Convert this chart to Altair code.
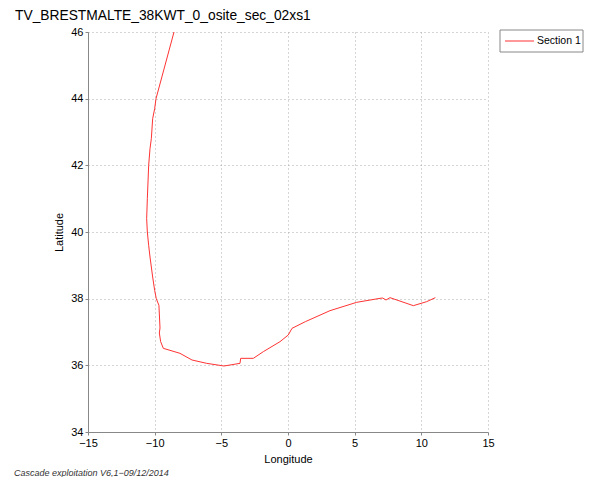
import altair as alt
import pandas as pd

title_text = "TV_BRESTMALTE_38KWT_0_osite_sec_02xs1"
footer_text = "Cascade exploitation V6,1\u221209/12/2014"
series_name = "Section 1"

lon = [-8.55, -9.9, -10.0, -10.15, -10.25, -10.35, -10.45, -10.5, -10.55, -10.6,
       -10.55, -10.45, -10.35, -10.15, -10.0, -9.88, -9.68, -9.6, -9.65, -9.55,
       -9.35, -8.1, -7.2, -6.1, -4.8, -3.6, -3.55, -2.6, -1.85, -0.6,
       0.02, 0.3, 1.3, 3.15, 5.15, 6.9, 7.1, 7.35, 7.65, 9.4, 10.4, 11.05]
lat = [46.0, 44.0, 43.7, 43.4, 42.8, 42.5, 42.0, 41.5, 41.0, 40.4,
       40.0, 39.6, 39.25, 38.65, 38.25, 38.0, 37.8, 37.12, 36.97, 36.71,
       36.51, 36.36, 36.16, 36.06, 35.98, 36.06, 36.21, 36.21, 36.41, 36.71,
       36.91, 37.11, 37.31, 37.64, 37.89, 38.01, 38.02, 37.96, 38.03, 37.79, 37.91, 38.03]

x_ticks = [-15, -10, -5, 0, 5, 10, 15]
y_ticks = [34, 36, 38, 40, 42, 44, 46]

df = pd.DataFrame({"lon": lon, "lat": lat, "i": list(range(len(lon)))})

FONT = "Liberation Sans"

xaxis = alt.Axis(values=x_ticks, title="Longitude", grid=True, gridDash=[1, 3],
                 gridColor="#aaaaaa", domainColor="#888888", tickColor="#888888",
                 tickSize=3, labelFont=FONT, labelFontSize=11, labelColor="black",
                 titleFont=FONT, titleFontSize=11, titleFontWeight="normal",
                 titleColor="black", labelPadding=2, titlePadding=5, labelFlush=False)
yaxis = alt.Axis(values=y_ticks, title="Latitude", grid=True, gridDash=[1, 3],
                 gridColor="#aaaaaa", domainColor="#888888", tickColor="#888888",
                 tickSize=3, labelFont=FONT, labelFontSize=11, labelColor="black",
                 titleFont=FONT, titleFontSize=11, titleFontWeight="normal",
                 titleColor="black", labelPadding=2, titlePadding=6, labelFlush=False)

line = alt.Chart(df).mark_line(color="#ff3333", strokeWidth=1).encode(
    x=alt.X("lon:Q", scale=alt.Scale(domain=[-15, 15], nice=False, zero=False), axis=xaxis),
    y=alt.Y("lat:Q", scale=alt.Scale(domain=[34, 46], nice=False, zero=False), axis=yaxis),
    order="i:Q",
)

title = alt.Chart(pd.DataFrame({"t": [title_text]})).mark_text(
    align="left", baseline="middle", font=FONT, fontSize=13.8, color="black"
).encode(x=alt.value(-73), y=alt.value(-16), text="t:N")

footer = alt.Chart(pd.DataFrame({"t": [footer_text]})).mark_text(
    align="left", baseline="middle", font=FONT, fontSize=9, fontStyle="italic", color="#333333"
).encode(x=alt.value(-74), y=alt.value(441), text="t:N")

leg_box = alt.Chart(pd.DataFrame({"a": [0]})).mark_rect(
    fill="white", stroke="#888888", strokeWidth=1
).encode(x=alt.value(412), x2=alt.value(495), y=alt.value(-2), y2=alt.value(20))

leg_line = alt.Chart(pd.DataFrame({"a": [0]})).mark_rule(color="#ff3333", strokeWidth=1).encode(
    x=alt.value(417), x2=alt.value(446), y=alt.value(9))

leg_text = alt.Chart(pd.DataFrame({"t": [series_name]})).mark_text(
    align="left", baseline="middle", font=FONT, fontSize=10.5, color="black"
).encode(x=alt.value(449), y=alt.value(9), text="t:N")

chart = alt.layer(line, title, footer, leg_box, leg_line, leg_text).properties(
    width=400, height=400,
    autosize=alt.AutoSizeParams(type="none"),
    padding={"left": 80, "top": 24, "right": 96, "bottom": 45},
).configure_view(stroke=None)

chart.save("out.html", embed_options={"renderer": "svg", "actions": False})
